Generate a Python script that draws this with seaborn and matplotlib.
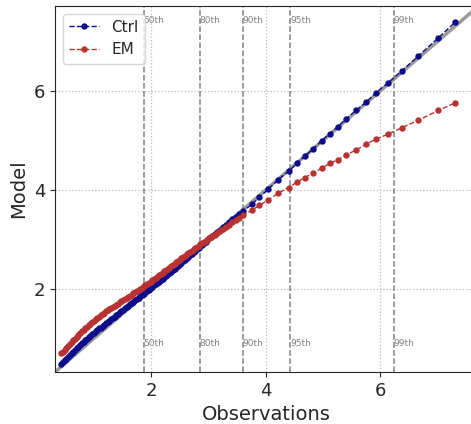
import matplotlib
matplotlib.use("Agg")
import matplotlib.pyplot as plt
import matplotlib.transforms as mtransforms
import seaborn as sns

# observed quantiles (shared by both models)
obs = [0.43, 0.46, 0.49, 0.52, 0.55, 0.58, 0.61, 0.64, 0.67, 0.70,
       0.73, 0.76, 0.79, 0.82, 0.85, 0.88, 0.91, 0.94, 0.97, 1.00,
       1.03, 1.06, 1.09, 1.12, 1.15, 1.18, 1.21, 1.24, 1.27, 1.30,
       1.33, 1.36, 1.39, 1.42, 1.45, 1.48, 1.51, 1.54, 1.57, 1.60,
       1.63, 1.66, 1.69, 1.72, 1.75, 1.78, 1.81, 1.84, 1.87, 1.90,
       1.93, 1.96, 1.99, 2.02, 2.05, 2.08, 2.11, 2.14, 2.17, 2.20,
       2.23, 2.26, 2.29, 2.32, 2.35, 2.38, 2.41, 2.44, 2.47, 2.50,
       2.53, 2.56, 2.59, 2.62, 2.65, 2.68, 2.71, 2.74, 2.77, 2.80,
       2.83, 2.86, 2.89, 2.92, 2.95, 2.98, 3.01, 3.04, 3.07,
       3.11, 3.15, 3.20, 3.25, 3.30, 3.36, 3.42, 3.48, 3.54,
       3.61, 3.76, 3.89, 4.05, 4.21, 4.40, 4.55, 4.68, 4.83, 4.98,
       5.12, 5.26, 5.41, 5.58, 5.76, 5.93, 6.14, 6.38, 6.67, 7.02, 7.31]

ctrl = [0.48, 0.52, 0.56, 0.59, 0.63, 0.67, 0.70, 0.73, 0.77, 0.80,
        0.83, 0.87, 0.90, 0.93, 0.96, 0.99, 1.02, 1.05, 1.08, 1.11,
        1.14, 1.17, 1.20, 1.22, 1.25, 1.28, 1.31, 1.34, 1.36, 1.39,
        1.42, 1.44, 1.47, 1.50, 1.53, 1.55, 1.58, 1.61, 1.63, 1.66,
        1.69, 1.71, 1.74, 1.77, 1.80, 1.82, 1.85, 1.88, 1.90, 1.93,
        1.96, 1.98, 2.01, 2.04, 2.07, 2.10, 2.12, 2.15, 2.18, 2.21,
        2.24, 2.27, 2.30, 2.32, 2.35, 2.38, 2.41, 2.44, 2.47, 2.50,
        2.53, 2.56, 2.59, 2.62, 2.65, 2.68, 2.71, 2.74, 2.77, 2.80,
        2.83, 2.86, 2.89, 2.92, 2.95, 2.99, 3.02, 3.05, 3.08,
        3.12, 3.15, 3.20, 3.25, 3.29, 3.35, 3.41, 3.46, 3.52,
        3.58, 3.71, 3.85, 4.02, 4.20, 4.38, 4.54, 4.68, 4.83, 5.00,
        5.14, 5.28, 5.44, 5.61, 5.78, 5.97, 6.17, 6.41, 6.71, 7.08, 7.39]

em = [0.70, 0.73, 0.77, 0.81, 0.85, 0.88, 0.92, 0.96, 0.99, 1.03,
      1.07, 1.10, 1.14, 1.17, 1.20, 1.23, 1.27, 1.30, 1.33, 1.36,
      1.39, 1.42, 1.44, 1.47, 1.50, 1.52, 1.55, 1.57, 1.60, 1.62,
      1.64, 1.66, 1.68, 1.70, 1.73, 1.75, 1.77, 1.79, 1.82, 1.84,
      1.86, 1.88, 1.91, 1.93, 1.95, 1.97, 2.00, 2.02, 2.05, 2.07,
      2.10, 2.12, 2.15, 2.18, 2.20, 2.23, 2.25, 2.28, 2.30, 2.33,
      2.36, 2.38, 2.41, 2.43, 2.46, 2.48, 2.51, 2.54, 2.56, 2.59,
      2.62, 2.64, 2.67, 2.70, 2.72, 2.75, 2.77, 2.80, 2.82, 2.85,
      2.87, 2.90, 2.92, 2.95, 2.97, 2.99, 3.02, 3.04, 3.07,
      3.10, 3.13, 3.17, 3.21, 3.25, 3.30, 3.35, 3.40, 3.44,
      3.50, 3.59, 3.69, 3.80, 3.93, 4.05, 4.16, 4.25, 4.34, 4.44,
      4.54, 4.61, 4.71, 4.81, 4.93, 5.03, 5.13, 5.26, 5.41, 5.61, 5.76]

pct_labels = ["50th", "80th", "90th", "95th", "99th"]
pct_values = [1.87, 2.85, 3.60, 4.43, 6.24]

sns.set_style("ticks")

fig = plt.figure(figsize=(4.71, 4.24), dpi=100)
ax = fig.add_axes([0.1168, 0.1226, 0.8854 * 1.0156, 0.8632])

lims = (0.32, 7.72)
ax.plot(lims, lims, color="gray", lw=2.5, alpha=0.8, zorder=1)

sns.lineplot(x=obs, y=ctrl, ax=ax, color="#0d0d8c", linestyle="--", lw=1,
             marker="o", markersize=4.6, markeredgewidth=0, sort=False,
             label="Ctrl", zorder=3)
sns.lineplot(x=obs, y=em, ax=ax, color="#b83232", linestyle="--", lw=1,
             marker="o", markersize=4.6, markeredgewidth=0, sort=False,
             label="EM", zorder=3)

trans = mtransforms.blended_transform_factory(ax.transData, ax.transAxes)
for lab, v in zip(pct_labels, pct_values):
    ax.axvline(v, color="gray", linestyle="--", lw=1.1, zorder=2)
    ax.text(v, 0.96, lab, transform=trans, fontsize=6.5, color="gray",
            ha="left", va="center", zorder=0)
    ax.text(v, 0.077, lab, transform=trans, fontsize=6.5, color="gray",
            ha="left", va="center", zorder=0)

ax.set_xlim(lims)
ax.set_ylim(lims)
ax.set_xticks([2, 4, 6])
ax.set_yticks([2, 4, 6])
ax.grid(True, linestyle=":", color="#bbbbbb", lw=0.9)
ax.tick_params(labelsize=13)
ax.set_xlabel("Observations", fontsize=14)
ax.set_ylabel("Model", fontsize=14)
ax.legend(loc="upper left", fontsize=11)

fig.savefig("out.png", dpi=100)
